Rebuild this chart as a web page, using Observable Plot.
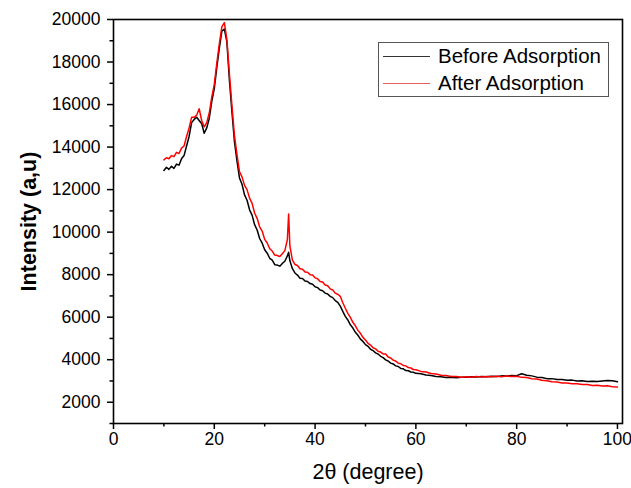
<!DOCTYPE html>
<html>
<head>
<meta charset="utf-8">
<script src="https://cdn.jsdelivr.net/npm/d3@7"></script>
<script src="https://cdn.jsdelivr.net/npm/@observablehq/plot@0.6"></script>
<style>
  html, body { margin: 0; padding: 0; background: #fff; }
  #wrap { position: relative; width: 631px; height: 488px; font-family: "Liberation Sans", Arial, sans-serif; }
  #legend { position: absolute; left: 378px; top: 42px; width: 231px; height: 55px; border: 1px solid #555; background: #fff; box-sizing: border-box; }
  .row { position: absolute; left: 0; height: 24px; display: flex; align-items: center; font-size: 20.5px; color: #000; white-space: nowrap; }
  .sw { width: 47px; height: 0; margin-left: 4px; margin-right: 8px; }
</style>
</head>
<body>
<div id="wrap"></div>
<script>
const theta = [10,10.5,11,11.5,12,12.5,13,13.5,14,14.5,15,15.5,16,16.5,17,17.5,18,18.5,19,19.5,20,20.5,21,21.5,22,22.5,23,23.5,24,24.5,25,25.5,26,26.5,27,27.5,28,28.5,29,29.5,30,30.5,31,31.5,32,32.5,33,33.5,34,34.5,34.75,35,35.5,36,36.5,37,37.5,38,38.5,39,39.5,40,40.5,41,41.5,42,42.5,43,43.5,44,44.5,45,45.5,46,46.5,47,47.5,48,48.5,49,49.5,50,50.5,51,51.5,52,52.5,53,53.5,54,54.5,55,55.5,56,56.5,57,57.5,58,58.5,59,59.5,60,61,62,63,64,65,66,67,68,69,70,71,72,73,74,75,76,77,78,79,80,81,82,83,84,85,86,87,88,89,90,91,92,93,94,95,96,97,98,99,100];

const before = [12900,13050,12950,13100,13000,13200,13150,13450,13600,14050,14500,15150,15300,15400,15250,15100,14650,14900,15350,16150,16750,17750,18650,19450,19550,18950,17150,15650,14250,13350,12550,12250,11750,11500,11050,10800,10350,10100,9700,9480,9170,9010,8770,8680,8470,8450,8400,8530,8630,8880,9050,8650,8280,8080,7980,7830,7820,7700,7680,7580,7550,7430,7390,7280,7240,7130,7090,6980,6920,6780,6700,6520,6270,6040,5870,5640,5490,5290,5150,4970,4860,4710,4630,4490,4430,4320,4270,4160,4100,3990,3940,3840,3800,3710,3680,3590,3570,3490,3480,3420,3410,3360,3340,3280,3260,3210,3200,3160,3170,3150,3180,3170,3200,3190,3210,3200,3220,3210,3240,3230,3260,3250,3340,3270,3240,3180,3160,3110,3110,3070,3070,3030,3040,3000,3010,2980,2990,2970,3000,3020,3010,2960];

const after = [13400,13500,13450,13600,13550,13750,13700,13950,14050,14500,14900,15400,15400,15500,15800,15250,14950,15150,15600,16350,16950,17950,18850,19650,19850,19050,17450,15950,14550,13650,12850,12600,12200,12000,11600,11350,10900,10650,10250,10050,9660,9490,9220,9110,8920,8900,8850,8980,9130,9650,10850,9350,8680,8480,8430,8280,8250,8130,8110,8000,7980,7850,7810,7680,7650,7510,7480,7330,7280,7130,7080,6980,6680,6420,6180,5990,5760,5590,5380,5240,5050,4930,4770,4690,4560,4510,4400,4360,4270,4270,4130,4080,3980,3940,3840,3810,3730,3710,3630,3610,3540,3530,3450,3420,3350,3330,3270,3260,3210,3210,3180,3200,3180,3210,3190,3210,3200,3220,3200,3230,3210,3220,3170,3160,3100,3090,3030,3010,2960,2950,2910,2910,2870,2870,2830,2830,2790,2800,2760,2770,2730,2720];

const xTicks = [0, 20, 40, 60, 80, 100];
const xMinor = [10, 30, 50, 70, 90];
const yTicks = [2000, 4000, 6000, 8000, 10000, 12000, 14000, 16000, 18000, 20000];
const yMinor = [1000, 3000, 5000, 7000, 9000, 11000, 13000, 15000, 17000, 19000];
const seriesNames = ["Before Adsorption", "After Adsorption"];
const seriesColors = ["#000000", "#ff0000"];

const rowsBefore = theta.map((t, i) => ({t, v: before[i]}));
const rowsAfter = theta.map((t, i) => ({t, v: after[i]}));

const chart = Plot.plot({
  width: 631,
  height: 488,
  marginLeft: 113,
  marginRight: 9,
  marginTop: 19,
  marginBottom: 65,
  style: {fontFamily: '"Liberation Sans", Arial, sans-serif', fontSize: "17px", color: "#000", background: "#fff"},
  x: {domain: [0, 101]},
  y: {domain: [1000, 20000]},
  marks: [
    Plot.line(rowsBefore, {x: "t", y: "v", stroke: seriesColors[0], strokeWidth: 1.5}),
    Plot.line(rowsAfter, {x: "t", y: "v", stroke: seriesColors[1], strokeWidth: 1.5}),
    Plot.frame({stroke: "#000", strokeWidth: 1.6}),
    Plot.axisX({ticks: xTicks, tickSize: 6, tickPadding: 3, strokeWidth: 1.5, fontSize: 17.5, label: null, tickFormat: d => String(d)}),
    Plot.axisX({ticks: xMinor, tickSize: 3.5, strokeWidth: 1.5, tickFormat: () => "", label: null}),
    Plot.axisY({ticks: yTicks, tickSize: 6, tickPadding: 7, strokeWidth: 1.5, fontSize: 17.5, label: null, tickFormat: d => String(d)}),
    Plot.axisY({ticks: yMinor, tickSize: 3.5, strokeWidth: 1.5, tickFormat: () => "", label: null}),
    Plot.text(["2θ (degree)"], {frameAnchor: "bottom", dy: 49, lineAnchor: "middle", textAnchor: "middle", fontSize: 21.5, fill: "#000"}),
    Plot.text(["Intensity (a,u)"], {frameAnchor: "left", dx: -84, rotate: -90, textAnchor: "middle", lineAnchor: "middle", fontSize: 21.5, fontWeight: "bold", fill: "#000"})
  ]
});

const wrap = document.getElementById("wrap");
wrap.appendChild(chart);

const legend = document.createElement("div");
legend.id = "legend";
seriesNames.forEach((name, i) => {
  const row = document.createElement("div");
  row.className = "row";
  row.style.top = (1 + i * 27) + "px";
  const sw = document.createElement("span");
  sw.className = "sw";
  sw.style.borderTop = "1px solid " + (i === 0 ? "#333" : "#e86060");
  const label = document.createElement("span");
  label.textContent = name;
  row.appendChild(sw);
  row.appendChild(label);
  legend.appendChild(row);
});
wrap.appendChild(legend);
</script>
</body>
</html>
